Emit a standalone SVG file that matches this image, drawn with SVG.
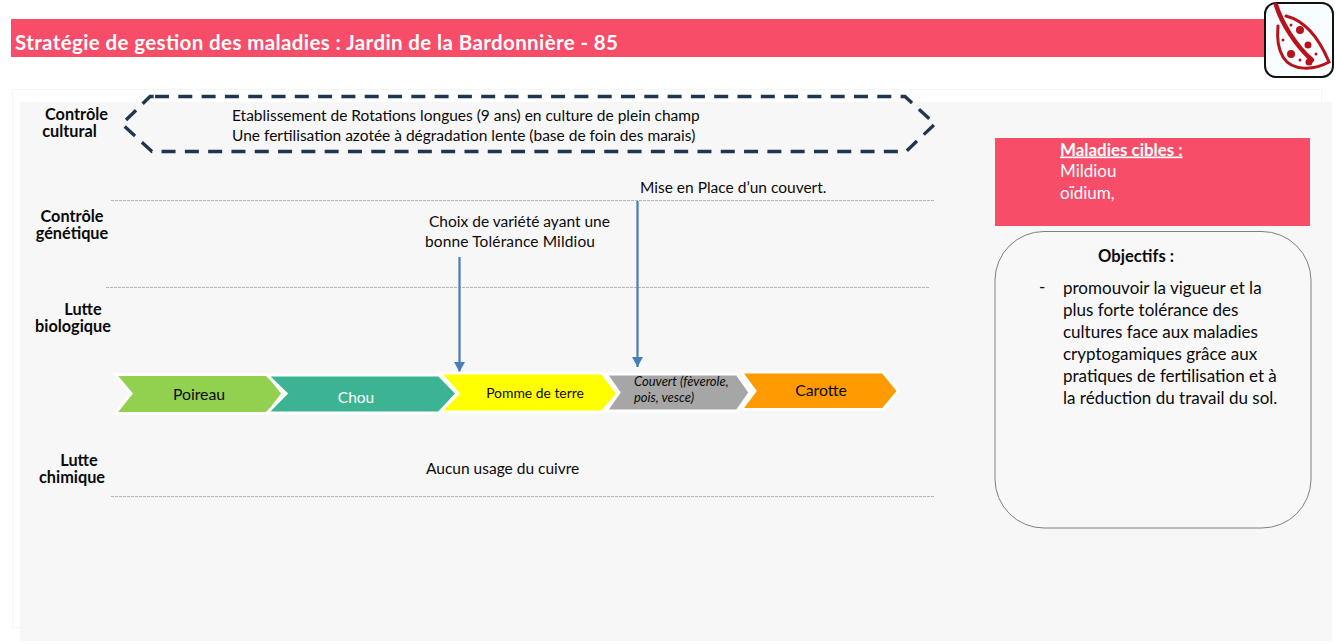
<svg xmlns="http://www.w3.org/2000/svg" width="1336" height="644" viewBox="0 0 1336 644">
<style>
text{font-family:Lato,"Open Sans","Liberation Sans",sans-serif;font-size:15.500px;fill:#0a0a0a}
.b{font-weight:700}
.lab{font-weight:700;text-anchor:middle;font-size:16.300px}
.w{fill:#fff}
.big{font-size:17px}
.sep{stroke:#b5b5b5;stroke-width:1;stroke-dasharray:3 1;fill:none}
.arrow{stroke:#4a7ebb;stroke-width:2.250;fill:none;marker-end:url(#ah)}
.chev{stroke:#fff;stroke-width:3}
</style>
<defs><marker id="ah" markerUnits="userSpaceOnUse" markerWidth="11" markerHeight="11" refX="10" refY="5.500" orient="auto"><path d="M0 0L10 5.500L0 11Z" fill="#4a7ebb"/></marker></defs>
<rect width="1336" height="644" fill="#fff"/>
<rect x="12.500" y="89.500" width="1309" height="538" fill="#fff" stroke="#f5f5f5"/>
<rect x="20" y="102" width="1312" height="539" fill="#f7f7f7"/>
<g id="title"><rect x="11" y="19" width="1258" height="38" fill="#f74d69"/><text x="15" y="49.500" class="b w" style="font-size:20.500px" textLength="603">Stratégie de gestion des maladies : Jardin de la Bardonnière - 85</text></g>
<g id="icon"><rect x="1265" y="3" width="68" height="74" rx="11" fill="#f8fdff" stroke="#111" stroke-width="2"/>
<g fill="none" stroke="#b8121b" stroke-linecap="round"><path d="M1276 5C1282 24 1296 46 1312 60" stroke-width="4.500"/><path d="M1286 16C1306 21 1319 38 1329 62C1315 70 1292 72 1283 57C1277 47 1277 36 1278 26" stroke-width="3"/></g>
<g fill="#b8121b"><circle cx="1300" cy="30" r="4"/><circle cx="1308" cy="45" r="3.500"/><circle cx="1291" cy="54" r="4"/><circle cx="1309" cy="62" r="3.500"/><circle cx="1283" cy="40" r="1.500"/><circle cx="1291" cy="25" r="1.500"/><circle cx="1316" cy="54" r="1.500"/><circle cx="1300" cy="60" r="1.500"/></g></g>
<g id="connectors">
<path class="sep" d="M111 200.500H934"/><path class="sep" d="M106 287.500H929"/><path class="sep" d="M111 496.500H934"/>
<path class="arrow" d="M459.500 257V372"/><path class="arrow" d="M637.500 201V367"/>
</g>
<g id="label-cultural"><text class="lab" x="76.500" y="119.500">Contrôle</text><text class="lab" x="69.500" y="136.500">cultural</text></g>
<g id="label-genetique"><text class="lab" x="72" y="221.500">Contrôle</text><text class="lab" x="72" y="238.500">génétique</text></g>
<g id="label-bio"><text class="lab" x="83" y="314.500">Lutte</text><text class="lab" x="73" y="331.500">biologique</text></g>
<g id="label-chimique"><text class="lab" x="79" y="465.500">Lutte</text><text class="lab" x="72" y="482.500">chimique</text></g>
<g id="hexagon"><path d="M155 96.500H905L935 124L906 151.500H152L122 124L150 96.500Z" fill="none" stroke="#1f3550" stroke-width="3.300" stroke-dasharray="14 9.300"/>
<text x="232" y="121">Etablissement de Rotations longues (9 ans) en culture de plein champ</text><text x="232" y="140.500">Une fertilisation azotée à dégradation lente (base de foin des marais)</text></g>
<g id="t-couvert"><text x="640" y="193">Mise en Place d’un couvert.</text></g>
<g id="t-variete"><text x="429" y="227">Choix de variété ayant une</text><text x="425" y="247" textLength="170">bonne Tolérance Mildiou</text></g>
<g id="poireau"><path class="chev" d="M115 374.500H268L283 393.500L268 413.500H115L131 393.500Z" fill="#92d050"/><text x="199" y="400" text-anchor="middle" style="font-size:15.800px">Poireau</text></g>
<g id="chou"><path class="chev" d="M267 375H439L457 393.500L439 413H267L286 393.500Z" fill="#3cb493"/><text x="356" y="403" text-anchor="middle" class="w">Chou</text></g>
<g id="pomme"><path class="chev" d="M440 373H602L618 393.500L602 412H440L458 393.500Z" fill="#ff0"/><text x="535" y="398" text-anchor="middle" style="font-size:13.900px">Pomme de terre</text></g>
<g id="couvert"><path class="chev" d="M606 374H737L750 392.500L737 411H606L619 392.500Z" fill="#a6a6a6"/><text x="634" y="386" style="font-size:13px;font-style:italic">Couvert (fèverole,</text><text x="634" y="402" style="font-size:13px;font-style:italic">pois, vesce)</text></g>
<g id="carotte"><path class="chev" d="M741 372H883L898.500 391L883 409.500H741L755 391Z" fill="#ff9a00"/><text x="821" y="396" text-anchor="middle" style="font-size:15.800px">Carotte</text></g>
<g id="t-cuivre"><text x="426" y="474">Aucun usage du cuivre</text></g>
<g id="maladies"><rect x="995" y="138" width="315" height="88" fill="#f74d69"/><text x="1060" y="155.500" class="b w" text-decoration="underline" style="font-size:16.900px">Maladies cibles :</text><text x="1060" y="177" class="w big">Mildiou</text><text x="1060" y="199" class="w big">oïdium,</text></g>
<g id="objectifs"><rect x="995" y="231.500" width="316" height="296.500" rx="49" fill="#f8f8f8" stroke="#7f7f7f"/><text x="1098" y="262" class="b" style="font-size:16.600px">Objectifs :</text><text x="1039" y="293" class="big">-</text>
<text x="1063" y="294" class="big">promouvoir la vigueur et la</text><text x="1063" y="316" class="big">plus forte tolérance des</text><text x="1063" y="338" class="big">cultures face aux maladies</text><text x="1063" y="360" class="big">cryptogamiques grâce aux</text><text x="1063" y="382" class="big">pratiques de fertilisation et à</text><text x="1063" y="404" class="big">la réduction du travail du sol.</text></g>
</svg>
